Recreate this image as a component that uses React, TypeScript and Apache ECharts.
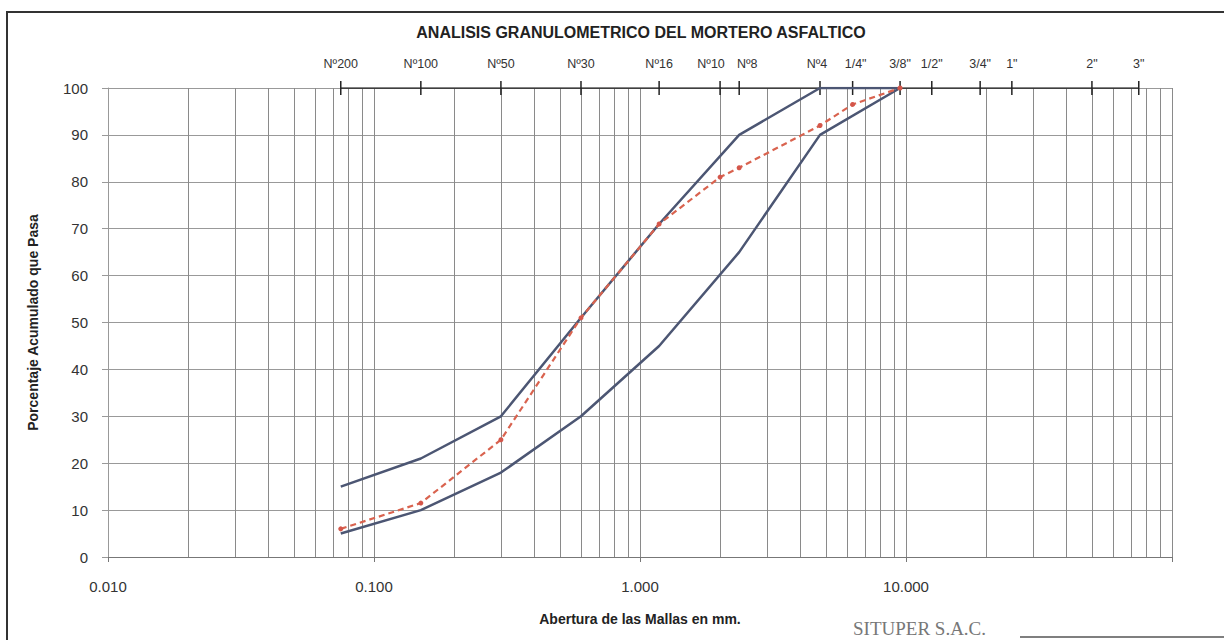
import React, { useEffect, useRef } from "react";
import * as echarts from "echarts";

const sieveLabels = ["Nº200", "Nº100", "Nº50", "Nº30", "Nº16", "Nº10", "Nº8", "Nº4", '1/4"', '3/8"', '1/2"', '3/4"', '1"', '2"', '3"'];
const sieveSizes = [0.075, 0.15, 0.3, 0.6, 1.18, 2.0, 2.36, 4.75, 6.3, 9.5, 12.5, 19.0, 25.0, 50.0, 75.0];

const limitSizes = [0.075, 0.15, 0.3, 0.6, 1.18, 2.36, 4.75, 9.5];
const upperLimit = [15, 21, 30, 51, 71, 90, 100, 100];
const lowerLimit = [5, 10, 18, 30, 45, 65, 90, 100];

const sampleSizes = [0.075, 0.15, 0.3, 0.6, 1.18, 2.0, 2.36, 4.75, 6.3, 9.5];
const samplePassing = [6, 11.5, 25, 51, 71, 81, 83, 92, 96.5, 100];

const decades = [0.01, 0.1, 1, 10];
const multiples = [2, 3, 4, 5, 6, 7, 8, 9];

const TITLE = "ANALISIS GRANULOMETRICO DEL MORTERO ASFALTICO";
const X_NAME = "Abertura de las Mallas en mm.";
const Y_NAME = "Porcentaje Acumulado que Pasa";

const labelShift: Record<string, number> = { "Nº10": -9, "Nº8": 8, "Nº4": -3, '1/4"': 3 };

export default function App() {
  const ref = useRef<HTMLDivElement>(null);
  useEffect(() => {
    if (!ref.current) return;
    const chart = echarts.init(ref.current, null, { renderer: "svg" });
    const minorLines: any[] = [];
    decades.forEach((d) => multiples.forEach((m) => minorLines.push({ xAxis: +(d * m).toPrecision(3) })));
    const font = "Liberation Sans, Arial, sans-serif";
    const option: any = {
      animation: false,
      backgroundColor: "#ffffff",
      textStyle: { fontFamily: font },
      grid: { left: 108, right: 52, top: 88, bottom: 83, containLabel: false },
      xAxis: {
        type: "log",
        logBase: 10,
        min: 0.01,
        max: 100,
        name: X_NAME,
        nameLocation: "middle",
        nameGap: 55,
        nameTextStyle: { fontFamily: font, fontWeight: "bold", fontSize: 14, color: "#222" },
        axisLine: { show: true, lineStyle: { color: "#777", width: 1 } },
        axisTick: { show: true, length: 5, lineStyle: { color: "#777" } },
        axisLabel: {
          margin: 22,
          fontSize: 15,
          color: "#333",
          fontFamily: font,
          formatter: (v: number) => (v >= 99 ? "" : v.toFixed(3)),
        },
        splitLine: { show: true, lineStyle: { color: "#8a8a8a", width: 1 } },
      },
      yAxis: {
        type: "value",
        min: 0,
        max: 100,
        interval: 10,
        name: Y_NAME,
        nameLocation: "middle",
        nameGap: 68,
        nameRotate: 90,
        nameTextStyle: { fontFamily: font, fontWeight: "bold", fontSize: 14, color: "#222" },
        axisLine: { show: true, lineStyle: { color: "#999", width: 1 } },
        axisTick: { show: true, length: 6, lineStyle: { color: "#999" } },
        axisLabel: { margin: 20, fontSize: 15, color: "#333", fontFamily: font },
        splitLine: { show: true, lineStyle: { color: "#999", width: 1 } },
      },
      graphic: [
        {
          type: "rect",
          shape: { x: 7, y: 12, width: 1240, height: 700 },
          style: { fill: "none", stroke: "#333", lineWidth: 2 },
          silent: true,
        },
        {
          type: "text",
          x: 641,
          y: 24,
          style: {
            text: TITLE,
            fontFamily: font,
            fontWeight: "bold",
            fontSize: 16,
            fill: "#222",
            textAlign: "center",
          },
        },
        {
          type: "text",
          x: 853,
          y: 619,
          style: {
            text: "SITUPER S.A.C.",
            fontFamily: "Liberation Serif, serif",
            fontSize: 19,
            fill: "#777",
          },
        },
        {
          type: "line",
          shape: { x1: 1020, y1: 637, x2: 1224, y2: 637 },
          style: { stroke: "#555", lineWidth: 1.5 },
        },
      ],
      series: [
        {
          name: "Tamices",
          type: "line",
          z: 2,
          data: sieveSizes.map((s, i) => ({
            value: [s, 100],
            name: sieveLabels[i],
            label: { offset: [labelShift[sieveLabels[i]] || 0, 0] },
          })),
          lineStyle: { color: "#222", width: 1.5 },
          symbol: "rect",
          symbolSize: [1.5, 14],
          itemStyle: { color: "#222" },
          label: {
            show: true,
            position: "top",
            distance: 11,
            fontSize: 12.5,
            color: "#333",
            fontFamily: font,
            formatter: (p: any) => p.name,
          },
          markLine: {
            silent: true,
            symbol: "none",
            z: 1,
            label: { show: false },
            lineStyle: { color: "#8a8a8a", width: 1, type: "solid" },
            data: minorLines,
          },
        },
        {
          name: "Límite superior",
          type: "line",
          z: 3,
          data: limitSizes.map((s, i) => [s, upperLimit[i]]),
          symbol: "none",
          lineStyle: { color: "#4c5673", width: 2.5 },
        },
        {
          name: "Límite inferior",
          type: "line",
          z: 3,
          data: limitSizes.map((s, i) => [s, lowerLimit[i]]),
          symbol: "none",
          lineStyle: { color: "#4c5673", width: 2.5 },
        },
        {
          name: "Muestra",
          type: "line",
          z: 4,
          data: sampleSizes.map((s, i) => [s, samplePassing[i]]),
          symbol: "circle",
          symbolSize: 5,
          itemStyle: { color: "#d4564a" },
          lineStyle: { color: "#d9634f", width: 2.2, type: [6, 4] },
        },
      ],
    };
    chart.setOption(option);
    return () => chart.dispose();
  }, []);
  return (
    <div
      ref={ref}
      style={{ position: "fixed", left: 0, top: 0, width: 1224, height: 640, background: "#fff" }}
    />
  );
}
